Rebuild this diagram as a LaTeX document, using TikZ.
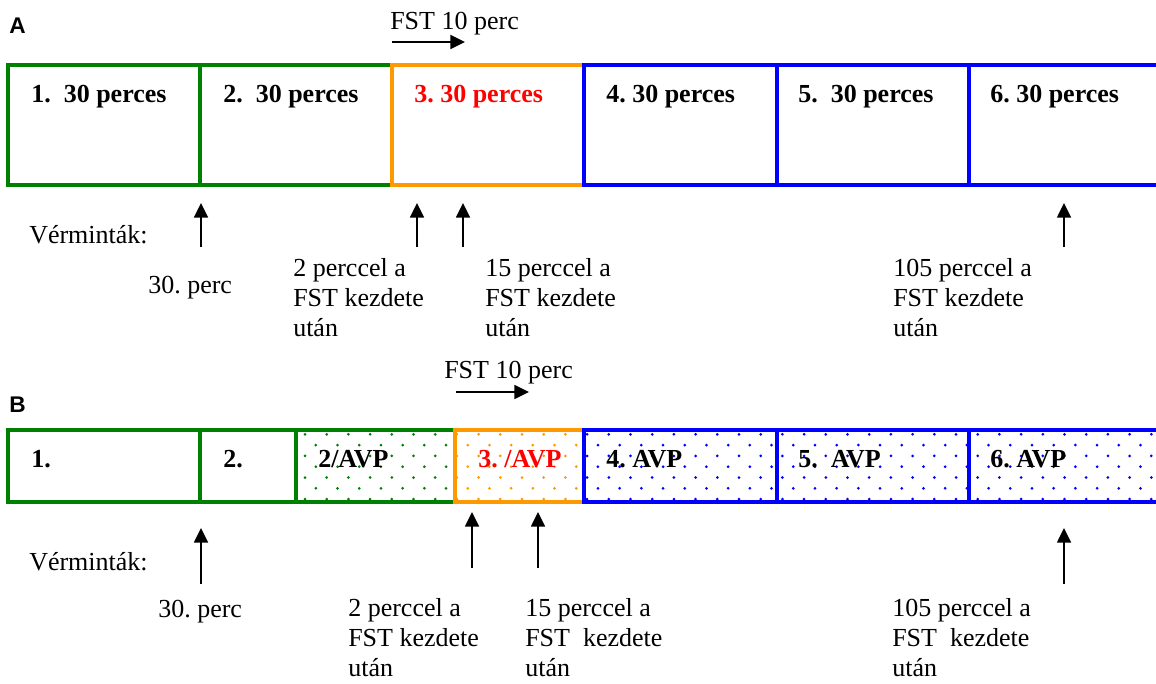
\documentclass[tikz,border=0pt]{standalone}
\usepackage{fontspec}
\setmainfont{Liberation Serif}
\setsansfont{Liberation Sans}
\usetikzlibrary{arrows.meta}
\frenchspacing
\definecolor{PhaseGreen}{HTML}{008000}
\definecolor{PhaseOrange}{HTML}{FF9900}
\definecolor{PhaseBlue}{HTML}{0000FF}
\definecolor{PhaseRed}{HTML}{FF0000}
\tikzset{
  % Phase box outline
  phase/.style={draw=#1, line width=3pt},
  % Bold label inside a phase box
  plbl/.style={anchor=base west, inner sep=0pt,
    font=\fontsize{19.5}{22}\selectfont\bfseries},
  % Plain text (multi-line: anchored on the last line)
  txt/.style={anchor=base west, inner sep=0pt, align=left,
    font=\fontsize{19.5}{22.3}\selectfont},
  % Panel letter
  panel/.style={anchor=base west, inner sep=0pt,
    font=\sffamily\bfseries\fontsize{17}{20}\selectfont},
  % Arrow
  arr/.style={-{Triangle[length=11pt,width=10.5pt]}, line width=1.2pt}
}
% Dotted fill of a box in panel B
\newcommand{\dotgrid}[3]{%
  \begin{scope}
    \clip (#1,430) rectangle (#2,502);
    \foreach \k in {0,...,6}
      \foreach \i in {0,...,53}
        \fill[#3] ({1.2+\i*21.7+mod(\k,2)*10.85},{434.3+\k*10.8}) circle[radius=1.5];
  \end{scope}}

\begin{document}
\begin{tikzpicture}[x=0.75pt, y=-0.75pt]
  \useasboundingbox (0,0) rectangle (1156,683);

  % ---------- panel A ----------
  \node[panel] (lblA) at (9,33) {A};
  \node[txt] (fstA) at (390,29) {FST 10 perc};
  \coordinate (fstA-s) at (392,42);
  \coordinate (fstA-e) at (465,42);
  \draw[arr] (fstA-s) -- (fstA-e);

  \draw[phase=PhaseGreen]  (8,65)   rectangle (200,185);
  \draw[phase=PhaseGreen]  (200,65) rectangle (392,185);
  \draw[phase=PhaseOrange] (392,65) rectangle (584,185);
  \draw[phase=PhaseBlue]   (584,65) rectangle (777,185);
  \draw[phase=PhaseBlue]   (777,65) rectangle (969,185);
  \draw[phase=PhaseBlue]   (969,65) rectangle (1175,185);

  \node[plbl] (a1) at (31,102)  {1.\ \ 30 perces};
  \node[plbl] (a2) at (223,102) {2.\ \ 30 perces};
  \node[plbl, text=PhaseRed] (a3) at (414,102) {3. 30 perces};
  \node[plbl] (a4) at (606,102) {4. 30 perces};
  \node[plbl] (a5) at (798,102) {5.\ \ 30 perces};
  \node[plbl] (a6) at (990,102) {6. 30 perces};

  \node[txt] (vmA) at (29,243) {Vérminták:};
  \foreach \x [count=\n] in {201,417,463,1064} {
    \coordinate (sA\n-foot) at (\x,247);
    \coordinate (sA\n-tip)  at (\x,203);
    \draw[arr] (sA\n-foot) -- (sA\n-tip);
  }
  \node[txt] (tA1) at (148,293) {30. perc};
  \node[txt] (tA2) at (293,336) {2 perccel a\\FST kezdete\\után};
  \node[txt] (tA3) at (485,336) {15 perccel a\\FST kezdete\\után};
  \node[txt] (tA4) at (893,336) {105 perccel a\\FST kezdete\\után};

  % ---------- panel B ----------
  \node[panel] (lblB) at (9,412) {B};
  \node[txt] (fstB) at (444,378) {FST 10 perc};
  \coordinate (fstB-s) at (456,392);
  \coordinate (fstB-e) at (529,392);
  \draw[arr] (fstB-s) -- (fstB-e);

  \dotgrid{296}{455}{PhaseGreen}
  \dotgrid{455}{584}{PhaseOrange}
  \dotgrid{584}{1160}{PhaseBlue}

  \draw[phase=PhaseGreen]  (8,430)   rectangle (200,502);
  \draw[phase=PhaseGreen]  (200,430) rectangle (296,502);
  \draw[phase=PhaseGreen]  (296,430) rectangle (455,502);
  \draw[phase=PhaseOrange] (455,430) rectangle (584,502);
  \draw[phase=PhaseBlue]   (584,430) rectangle (777,502);
  \draw[phase=PhaseBlue]   (777,430) rectangle (969,502);
  \draw[phase=PhaseBlue]   (969,430) rectangle (1175,502);

  \node[plbl] (b1) at (31,467)  {1.};
  \node[plbl] (b2) at (223,467) {2.};
  \node[plbl] (b2v) at (318,467) {2/AVP};
  \node[plbl, text=PhaseRed] (b3) at (478,467) {3. /AVP};
  \node[plbl] (b4) at (606,467) {4. AVP};
  \node[plbl] (b5) at (798,467) {5.\ \ AVP};
  \node[plbl] (b6) at (990,467) {6. AVP};

  \node[txt] (vmB) at (29,570) {Vérminták:};
  \foreach \x/\t/\b [count=\n] in {201/528/584, 472/512/568, 538/512/568, 1064/528/584} {
    \coordinate (sB\n-foot) at (\x,\b);
    \coordinate (sB\n-tip)  at (\x,\t);
    \draw[arr] (sB\n-foot) -- (sB\n-tip);
  }
  \node[txt] (tB1) at (158,617) {30. perc};
  \node[txt] (tB2) at (348,676) {2 perccel a\\FST kezdete\\után};
  \node[txt] (tB3) at (525,676) {15 perccel a\\FST\ \ kezdete\\után};
  \node[txt] (tB4) at (892,676) {105 perccel a\\FST\ \ kezdete\\után};
\end{tikzpicture}
\end{document}
